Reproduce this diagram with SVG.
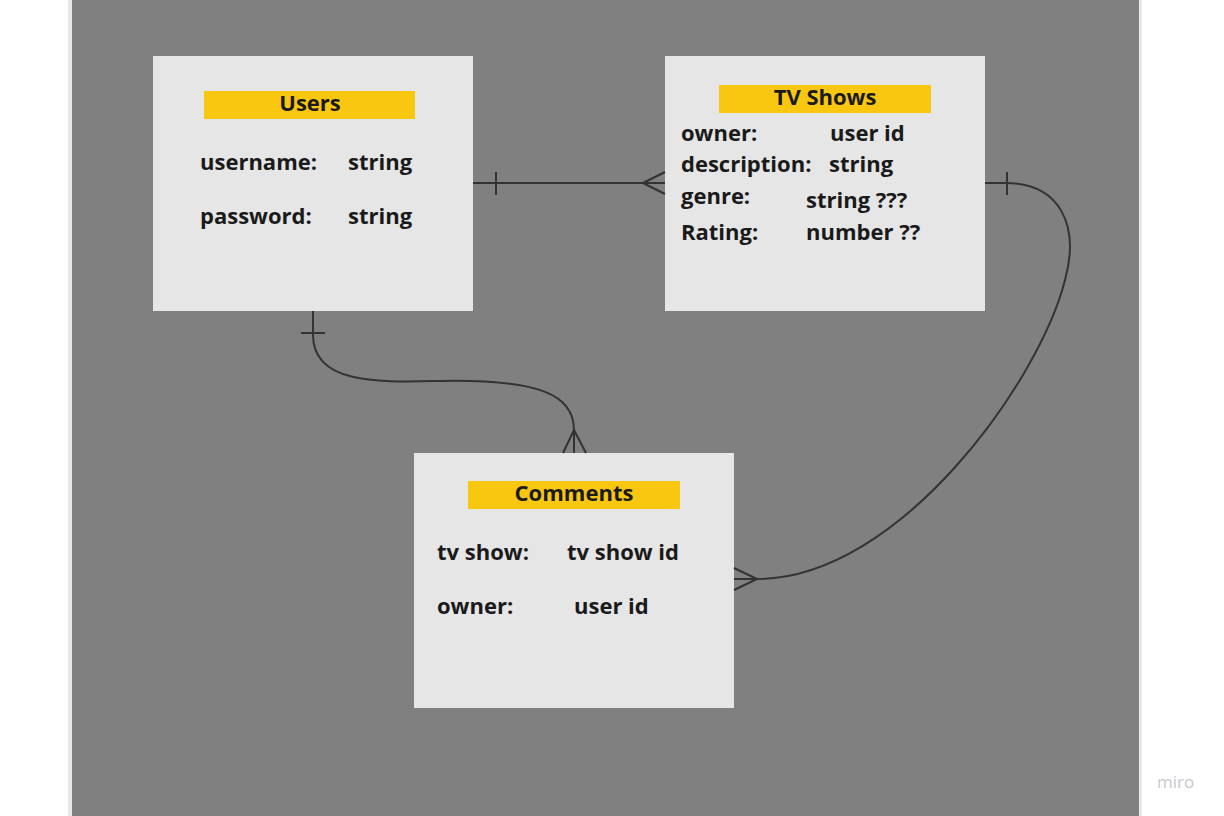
<svg xmlns="http://www.w3.org/2000/svg" width="1224" height="816" viewBox="0 0 1224 816">
<style>
.box{fill:#e6e6e6}
.bar{fill:#fac710}
.t{font-family:"Open Sans","Liberation Sans",sans-serif;font-weight:bold;font-size:22px;fill:#1a1a1a}
.title{text-anchor:middle}
.c{fill:none;stroke:#333;stroke-width:2}
</style>
<rect x="0" y="0" width="1224" height="816" fill="#ffffff"/>
<rect x="68" y="0" width="1074" height="816" fill="#e8e8e8"/>
<rect x="72" y="0" width="1067" height="816" fill="#808080"/>
<g id="users">
<rect class="box" x="153" y="56" width="320" height="255"/>
<rect class="bar" x="204" y="91" width="211" height="28"/>
<text class="t title" x="310" y="111">Users</text>
<text class="t" x="200" y="170">username:</text>
<text class="t" x="348" y="170">string</text>
<text class="t" x="200" y="224">password:</text>
<text class="t" x="348" y="224">string</text>
</g>
<g id="tvshows">
<rect class="box" x="665" y="56" width="320" height="255"/>
<rect class="bar" x="719" y="85" width="212" height="28"/>
<text class="t title" x="825" y="105">TV Shows</text>
<text class="t" x="681" y="141">owner:</text>
<text class="t" x="830" y="141">user id</text>
<text class="t" x="681" y="172">description:</text>
<text class="t" x="829" y="172">string</text>
<text class="t" x="681" y="204">genre:</text>
<text class="t" x="806" y="208">string ???</text>
<text class="t" x="681" y="240">Rating:</text>
<text class="t" x="806" y="240">number ??</text>
</g>
<g id="comments">
<rect class="box" x="414" y="453" width="320" height="255"/>
<rect class="bar" x="468" y="481" width="212" height="28"/>
<text class="t title" x="574" y="501">Comments</text>
<text class="t" x="437" y="560">tv show:</text>
<text class="t" x="567" y="560">tv show id</text>
<text class="t" x="437" y="614">owner:</text>
<text class="t" x="574" y="614">user id</text>
</g>
<g id="connectors">
<path class="c" d="M473,183 L665,183"/>
<path class="c" d="M496,172 L496,195"/>
<path class="c" d="M643,183 L665,172 M643,183 L665,194"/>
<path class="c" d="M985,183 L1005,183 C1060,183 1080,225 1065,280 C1040,380 900,579 757,579 L734,579"/>
<path class="c" d="M1007,172 L1007,195"/>
<path class="c" d="M757,579 L734,568 M757,579 L734,590"/>
<path class="c" d="M313,311 L313,335 C313,385 380,382 440,381 C540,379 574,395 574,430 L574,453"/>
<path class="c" d="M301,333 L325,333"/>
<path class="c" d="M574,430 L563,453 M574,430 L586,453"/>
</g>
<text x="1157" y="788" font-family="'Open Sans','Liberation Sans',sans-serif" font-size="17" fill="#c8c8cc">miro</text>
</svg>
